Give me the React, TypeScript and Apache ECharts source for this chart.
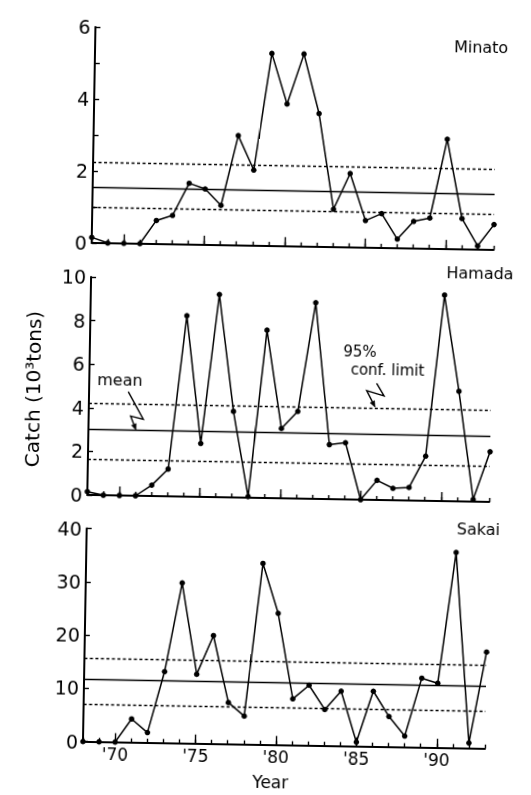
import React, { useEffect, useRef } from "react";
import * as echarts from "echarts";

// ---- data ----
const years = [
  1968, 1969, 1970, 1971, 1972, 1973, 1974, 1975, 1976, 1977, 1978, 1979, 1980,
  1981, 1982, 1983, 1984, 1985, 1986, 1987, 1988, 1989, 1990, 1991, 1992, 1993,
];
const minatoCatch = [
  0.15, 0, 0, 0, 0.65, 0.8, 1.7, 1.55, 1.1, 3.05, 2.1, 5.35, 3.95, 5.35, 3.7,
  1.05, 2.05, 0.75, 0.95, 0.25, 0.75, 0.85, 3.05, 0.85, 0.1, 0.7,
];
const hamadaCatch = [
  0.15, 0, 0, 0, 0.5, 1.25, 8.3, 2.45, 9.3, 3.95, 0.05, 7.7, 3.2, 4.0, 9.0, 2.5,
  2.6, 0, 0.9, 0.55, 0.6, 2.05, 9.45, 5.05, 0.1, 2.3,
];
const sakaiCatch = [
  0, 0, 0, 4.4, 1.9, 13.4, 30.1, 13.0, 20.3, 7.8, 5.3, 34.0, 24.7, 8.7, 11.3,
  6.8, 10.3, 0.8, 10.4, 5.7, 2.1, 13.0, 12.1, 36.7, 1.0, 18.1,
];
const panelNames = ["Minato", "Hamada", "Sakai"];
const meanValues = [1.55, 3.0, 11.7];
const upperLimits = [2.23, 4.2, 15.6];
const lowerLimits = [0.98, 1.63, 7.0];
const yMaxes = [6, 10, 40];
const yIntervals = [1, 2, 10];
const labeledYears = [1970, 1975, 1980, 1985, 1990];
const yearTickLabels = ["'70", "'75", "'80", "'85", "'90"];

// ---- layout ----
const FONT = '"DejaVu Sans", sans-serif';
const gridTops = [30, 280, 531.5];
const gridHeights = [215.8, 218, 213.2];
const titlePos = [
  [475, 43.7],
  [477.8, 269.6],
  [480.6, 525.3],
];
const meanArrow = [
  [128.2, 394.1],
  [143.7, 421.4],
  [131.0, 418.4],
  [136.6, 432.3],
];
const confArrow = [
  [376.4, 381.4],
  [384.0, 393.9],
  [366.6, 388.9],
  [375.2, 405.2],
];

function arrow(points: number[][]) {
  const n = points.length;
  const [tx, ty] = points[n - 1];
  const [fx, fy] = points[n - 2];
  const len = Math.hypot(tx - fx, ty - fy);
  const dx = (tx - fx) / len;
  const dy = (ty - fy) / len;
  const bx = tx - 6 * dx;
  const by = ty - 6 * dy;
  const px = -dy * 2.4;
  const py = dx * 2.4;
  const linePts = points.slice(0, n - 1).concat([[bx, by]]);
  return [
    {
      type: "polyline",
      shape: { points: linePts },
      style: { stroke: "#000", lineWidth: 1.4, fill: null },
    },
    {
      type: "polygon",
      shape: { points: [[tx, ty], [bx + px, by + py], [bx - px, by - py]] },
      style: { fill: "#000", stroke: "#000", lineWidth: 0.6 },
    },
  ];
}

export default function App() {
  const ref = useRef<HTMLDivElement>(null);

  useEffect(() => {
    if (!ref.current) return;
    const chart = echarts.init(ref.current, undefined, { renderer: "svg" });
    const datasets = [minatoCatch, hamadaCatch, sakaiCatch];
    const black = "#000";
    const isLabeled = (_idx: number, val: any) => labeledYears.includes(Number(val));

    const grid = datasets.map((_, i) => ({
      left: 89,
      right: 40,
      top: gridTops[i],
      height: gridHeights[i],
      containLabel: false,
    }));

    const xAxis: any[] = [];
    datasets.forEach((_, i) => {
      xAxis.push({
        type: "category",
        gridIndex: i,
        data: years,
        boundaryGap: false,
        position: "bottom",
        axisLine: { show: true, onZero: false, lineStyle: { color: black, width: 2 } },
        axisTick: { show: true, inside: true, length: 4, interval: 0, lineStyle: { color: black, width: 1.4 } },
        axisLabel: { show: false },
        splitLine: { show: false },
      });
      xAxis.push({
        type: "category",
        gridIndex: i,
        data: years,
        boundaryGap: false,
        position: "bottom",
        offset: 0,
        axisLine: { show: false, onZero: false },
        axisTick: { show: true, inside: true, length: 9, interval: isLabeled, lineStyle: { color: black, width: 1.4 } },
        axisLabel: {
          show: i === 2,
          interval: isLabeled,
          margin: 4,
          fontSize: 17,
          fontFamily: FONT,
          color: black,
          formatter: (v: any) => {
            const k = labeledYears.indexOf(Number(v));
            return k >= 0 ? yearTickLabels[k] : "";
          },
        },
        splitLine: { show: false },
      });
    });

    const yAxis = datasets.map((_, i) => ({
      type: "value",
      gridIndex: i,
      min: 0,
      max: yMaxes[i],
      interval: yIntervals[i],
      axisLine: { show: true, lineStyle: { color: black, width: 2 } },
      axisTick: { show: true, inside: true, length: 5, lineStyle: { color: black, width: 1.4 } },
      axisLabel: {
        fontSize: 19,
        fontFamily: FONT,
        color: black,
        margin: 5,
        formatter: (v: number) => (i === 0 && v % 2 !== 0 ? "" : String(v)),
      },
      splitLine: { show: false },
    }));

    const series = datasets.map((d, i) => ({
      type: "line",
      xAxisIndex: 2 * i,
      yAxisIndex: i,
      data: d,
      symbol: "circle",
      symbolSize: 5.5,
      showSymbol: true,
      clip: false,
      itemStyle: { color: black },
      lineStyle: { color: black, width: 1.5 },
      markLine: {
        silent: true,
        symbol: ["none", "none"],
        label: { show: false },
        data: [
          { yAxis: meanValues[i], lineStyle: { color: black, width: 1.4, type: "solid" } },
          { yAxis: upperLimits[i], lineStyle: { color: black, width: 1.4, type: [3, 2.5] } },
          { yAxis: lowerLimits[i], lineStyle: { color: black, width: 1.4, type: [3, 2.5] } },
        ],
      },
    }));

    const txt = (text: string, x: number, y: number, size: number, extra: any = {}) => ({
      type: "text",
      x,
      y,
      ...extra,
      style: {
        text,
        fontSize: size,
        fontFamily: FONT,
        fill: black,
        align: "center",
        verticalAlign: "middle",
      },
    });

    const graphic: any[] = [
      ...panelNames.map((n, i) => txt(n, titlePos[i][0], titlePos[i][1], 16)),
      txt("Catch (10³tons)", 33, 393, 20, { rotation: Math.PI / 2 }),
      txt("Year", 277, 782, 17),
      txt("mean", 119.7, 382.5, 16),
      txt("95%", 359.2, 350.2, 15),
      txt("conf. limit", 387, 367.8, 15),
      ...arrow(meanArrow),
      ...arrow(confArrow),
    ];

    chart.setOption({
      animation: false,
      backgroundColor: "#fff",
      grid,
      xAxis,
      yAxis,
      series,
      graphic,
    });
    return () => chart.dispose();
  }, []);

  return (
    <div
      style={{
        position: "fixed",
        left: 0,
        top: 0,
        width: 531,
        height: 795,
        background: "#fff",
        transform: "rotate(1deg)",
      }}
    >
      <div ref={ref} style={{ width: 531, height: 795 }} />
    </div>
  );
}
